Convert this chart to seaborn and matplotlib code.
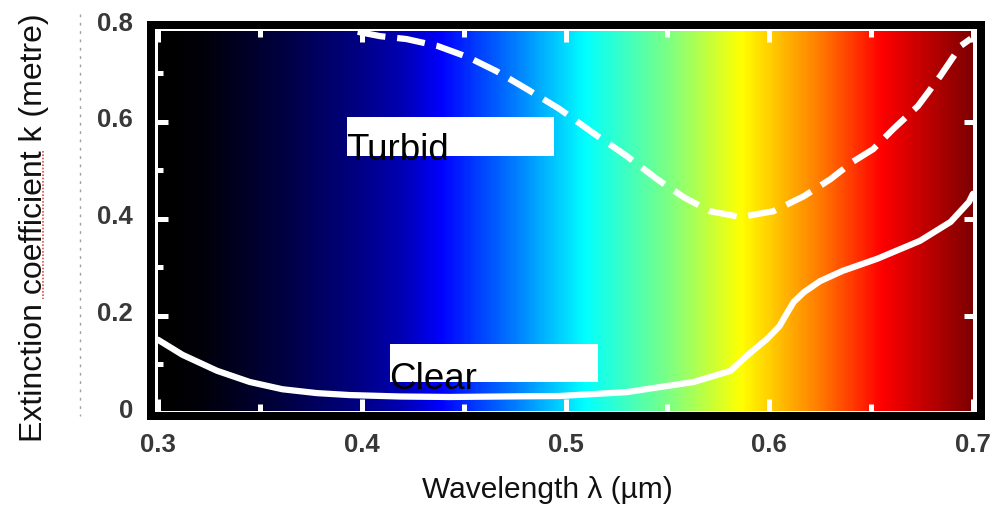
import numpy as np
import matplotlib
matplotlib.use("Agg")
import matplotlib.pyplot as plt
import seaborn as sns
from matplotlib.colors import LinearSegmentedColormap
from matplotlib.patches import Rectangle
from matplotlib.lines import Line2D
from matplotlib.transforms import ScaledTranslation

# ---------------- data ----------------
wavelength_clear = [0.300, 0.312, 0.329, 0.345, 0.361, 0.378, 0.394, 0.419, 0.443, 0.468,
                    0.497, 0.530, 0.563, 0.581, 0.589, 0.599, 0.605, 0.609, 0.612, 0.617,
                    0.625, 0.636, 0.653, 0.674, 0.689, 0.698, 0.700]
k_clear = [0.151, 0.120, 0.087, 0.064, 0.049, 0.041, 0.037, 0.034, 0.033, 0.034,
           0.035, 0.043, 0.064, 0.087, 0.118, 0.153, 0.179, 0.208, 0.229, 0.249,
           0.272, 0.293, 0.318, 0.355, 0.394, 0.435, 0.452]

wavelength_turbid = [0.398, 0.409, 0.422, 0.437, 0.452, 0.466, 0.481, 0.497, 0.513, 0.530,
                     0.545, 0.558, 0.571, 0.586, 0.602, 0.617, 0.630, 0.641, 0.651, 0.661,
                     0.673, 0.684, 0.694, 0.699]
k_turbid = [0.786, 0.777, 0.771, 0.757, 0.734, 0.705, 0.668, 0.627, 0.579, 0.530,
            0.482, 0.445, 0.416, 0.404, 0.416, 0.447, 0.482, 0.518, 0.544, 0.586,
            0.633, 0.695, 0.757, 0.772]

x_ticks = [0.3, 0.4, 0.5, 0.6, 0.7]
x_tick_labels = ["0.3", "0.4", "0.5", "0.6", "0.7"]
x_minor_ticks = [0.35, 0.45, 0.55, 0.65]
y_ticks = [0.0, 0.2, 0.4, 0.6, 0.8]
y_tick_labels = ["0", "0.2", "0.4", "0.6", "0.8"]
y_minor_ticks = [0.1, 0.3, 0.5, 0.7]

series_labels = ["Turbid", "Clear"]
x_label = "Wavelength λ (µm)"
y_label = "Extinction coefficient k (metre)"

# spectrum colours (position along 0.3-0.7 µm, colour)
spectrum_stops = [(0.00, "#000000"), (0.05, "#000008"), (0.15, "#000040"),
                  (0.24, "#000080"), (0.30, "#0000b4"), (0.347, "#0000ff"),
                  (0.44, "#0080ff"), (0.524, "#00ffff"), (0.63, "#80ff80"),
                  (0.717, "#ffff00"), (0.81, "#ff8000"), (0.89, "#ff0000"),
                  (1.00, "#800000")]

# ---------------- style ----------------
sns.set_theme(style="white")
plt.rcParams["font.family"] = ["Liberation Sans", "DejaVu Sans"]

fig = plt.figure(figsize=(9.95, 5.06), dpi=100)
ax = fig.add_axes([151 / 995, 89 / 506, 830 / 995, 391 / 506])
ax.set_facecolor("white")

cmap = LinearSegmentedColormap.from_list("spectrum", spectrum_stops)
grad = np.linspace(0, 1, 600)[None, :]
ax.imshow(grad, cmap=cmap, aspect="auto", extent=[0.3, 0.7, 0.0041, 0.7856],
          origin="lower", interpolation="bilinear", zorder=0)

sns.lineplot(x=wavelength_clear, y=k_clear, ax=ax, color="white", lw=4.5,
             solid_capstyle="round", solid_joinstyle="round", sort=False, zorder=2)
sns.lineplot(x=wavelength_turbid, y=k_turbid, ax=ax, color="white", lw=4.5,
             linestyle=(0, (4.5, 1.9)), dash_capstyle="butt", dash_joinstyle="round",
             sort=False, zorder=2)

ax.set_xlim(0.29656, 0.70393)
ax.set_ylim(-0.00619, 0.8)

# annotation boxes
ax.add_patch(Rectangle((0.3928, 0.5299), 0.1016, 0.0804, facecolor="white",
                       edgecolor="none", zorder=4))
ax.text(0.3925, 0.5237, series_labels[0], fontsize=26.5, color="black",
        ha="left", va="baseline", zorder=5)
ax.add_patch(Rectangle((0.4139, 0.0639), 0.1021, 0.0784, facecolor="white",
                       edgecolor="none", zorder=4))
ax.text(0.4134, 0.0515, series_labels[1], fontsize=26.5, color="black",
        ha="left", va="baseline", zorder=5)

# ticks
ax.set_xticks(x_ticks)
ax.set_xticklabels(x_tick_labels)
ax.set_xticks(x_minor_ticks, minor=True)
ax.set_yticks(y_ticks)
ax.set_yticklabels(y_tick_labels)
ax.set_yticks(y_minor_ticks, minor=True)
ax.set_axisbelow(False)
ax.tick_params(which="both", direction="in", color="white", top=True, right=True,
               bottom=True, left=True)
ax.tick_params(which="major", length=12.2, width=3.6, labelsize=18.5,
               labelcolor="#383838")
ax.tick_params(which="minor", length=8.6, width=3.6, right=False)
ax.tick_params(axis="x", pad=11.5)
ax.tick_params(axis="y", pad=13)
for lab in ax.get_xticklabels() + ax.get_yticklabels():
    lab.set_fontweight("bold")
offset = ScaledTranslation(0, 0.05, fig.dpi_scale_trans)
for lab in ax.get_yticklabels():
    lab.set_transform(lab.get_transform() + offset)

for sp in ax.spines.values():
    sp.set_visible(True)
    sp.set_color("black")
    sp.set_linewidth(5.76)
    sp.set_zorder(3)
    sp.set_capstyle("projecting")

ax.set_xlabel(x_label, fontsize=21.5, color="#111111")
ax.xaxis.set_label_coords(0.4771, -0.150)
ax.set_ylabel(y_label, fontsize=23, color="#111111")
ax.yaxis.set_label_coords(-0.1229, 0.4834)

# page decorations: faint dotted guide and spell-check squiggle
fig.add_artist(Line2D([80 / 995, 80 / 995], [1 - 15 / 506, 1 - 417 / 506],
                      transform=fig.transFigure, color="#a0a0a0", lw=1,
                      linestyle=(0, (2, 4))))
fig.add_artist(Line2D([43 / 995, 43 / 995], [1 - 152 / 506, 1 - 300 / 506],
                      transform=fig.transFigure, color="#e05050", lw=1.2,
                      linestyle=(0, (1, 1))))

fig.savefig("out.png", dpi=100)
